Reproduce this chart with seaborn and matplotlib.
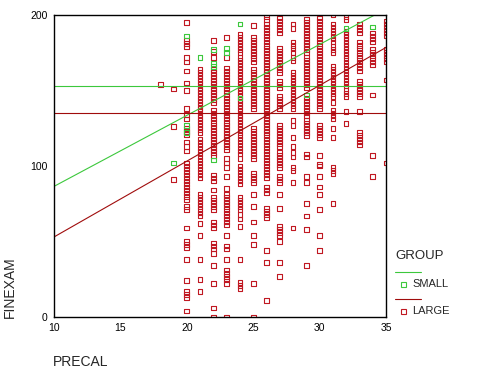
import matplotlib
matplotlib.use("Agg")
import matplotlib.pyplot as plt
import seaborn as sns
import pandas as pd
from matplotlib.lines import Line2D

# ---- data: FINEXAM scores per PRECAL value ----
large_18 = [154]
large_19 = [151, 126, 91]
large_20 = [195, 183, 181, 179, 172, 169, 163, 155, 150, 138, 134, 131, 125, 123, 121, 116, 113, 110,
            102, 100, 98, 96, 94, 92, 90, 88, 86, 84, 82, 80, 78, 73, 71, 59, 50, 48, 46, 38, 24, 17, 15, 13, 4]
large_21 = [164, 162, 160, 158, 156, 154, 152, 150, 148, 146, 144, 142, 140, 138, 136, 134, 132, 130,
            128, 126, 124, 122, 118, 116, 114, 112, 110, 108, 106, 104, 102, 100, 98, 96, 94, 92,
            81, 79, 77, 75, 73, 71, 69, 67, 62, 54, 38, 25, 17]
large_22 = [183, 176, 172, 164, 162, 160, 158, 156, 154, 152, 150, 148, 146, 144, 142, 137, 135, 133,
            131, 129, 127, 125, 123, 121, 119, 117, 115, 113, 111, 109, 107, 94, 92, 90, 84, 79, 77,
            75, 73, 71, 63, 61, 59, 49, 47, 45, 42, 34, 22, 6, 0]
large_23 = [185, 172, 165, 163, 161, 159, 157, 155, 153, 151, 149, 147, 145, 143, 141, 139, 137, 135,
            133, 131, 129, 127, 125, 123, 121, 119, 117, 115, 113, 111, 105, 102, 99, 93, 85, 81, 79,
            77, 75, 73, 71, 69, 67, 65, 63, 61, 54, 47, 45, 38, 31, 29, 27, 25, 22, 0]
large_24 = [187, 185, 183, 181, 179, 177, 175, 172, 170, 168, 166, 164, 162, 160, 158, 156, 154, 152,
            150, 148, 146, 144, 142, 140, 138, 136, 134, 132, 130, 128, 126, 124, 122, 120, 118, 116,
            114, 112, 110, 108, 105, 100, 98, 96, 94, 92, 90, 88, 79, 77, 75, 73, 71, 68, 65, 60,
            38, 23, 21, 19]
large_25 = [193, 185, 183, 181, 179, 177, 175, 173, 171, 169, 164, 162, 160, 158, 156, 154, 152, 150,
            148, 146, 144, 142, 140, 138, 125, 123, 121, 119, 117, 115, 113, 111, 109, 107, 105,
            95, 93, 91, 89, 81, 73, 63, 54, 48, 22, 0]
large_26 = [199, 197, 194, 192, 190, 188, 186, 184, 182, 180, 178, 176, 174, 172, 170, 168, 166, 164,
            162, 160, 158, 156, 154, 152, 150, 148, 146, 144, 142, 140, 138, 136, 134, 132, 130, 128,
            126, 124, 122, 120, 118, 116, 114, 112, 110, 108, 106, 104, 102, 100, 98, 96, 94, 92,
            86, 84, 82, 72, 70, 68, 66, 44, 36, 11]
large_27 = [198, 196, 194, 192, 190, 188, 178, 176, 174, 172, 170, 168, 166, 164, 162, 156, 154, 152,
            146, 144, 142, 140, 138, 127, 125, 123, 121, 119, 117, 115, 113, 109, 107, 105, 103, 101,
            99, 93, 91, 89, 81, 72, 60, 58, 56, 54, 50, 36, 27]
large_28 = [194, 191, 182, 180, 178, 175, 172, 170, 162, 160, 158, 156, 154, 152, 150, 148, 146, 144,
            142, 140, 138, 130, 127, 119, 113, 109, 106, 99, 97, 89, 59]
large_29 = [197, 195, 193, 191, 189, 187, 185, 183, 181, 179, 177, 175, 172, 170, 168, 166, 164, 162,
            160, 158, 156, 154, 152, 145, 143, 141, 139, 137, 135, 133, 130, 128, 126, 124, 122, 120,
            108, 106, 93, 89, 75, 67, 58, 34]
large_30 = [198, 196, 194, 192, 190, 188, 186, 184, 182, 180, 178, 176, 174, 172, 170, 168, 166, 164,
            162, 160, 158, 156, 154, 152, 150, 148, 146, 144, 142, 140, 138, 127, 125, 123, 121, 119,
            107, 101, 100, 93, 86, 81, 71, 54, 44]
large_31 = [200, 194, 192, 190, 188, 186, 184, 182, 179, 177, 175, 166, 164, 162, 160, 158, 156, 154,
            152, 150, 148, 146, 142, 137, 135, 133, 131, 125, 119, 99, 97, 95, 75]
large_32 = [199, 197, 189, 187, 185, 183, 181, 179, 177, 175, 173, 171, 169, 167, 165, 163, 161, 159,
            157, 155, 153, 150, 148, 146, 136, 128]
large_33 = [194, 192, 190, 188, 182, 180, 178, 175, 173, 171, 169, 167, 165, 163, 156, 154, 152, 150,
            148, 146, 136, 122, 120, 118, 116, 114]
large_34 = [188, 186, 184, 182, 177, 175, 173, 171, 169, 167, 147, 107, 93]
large_35 = [196, 194, 192, 190, 188, 186, 177, 175, 173, 171, 169, 157, 102]

small_19 = [102]
small_20 = [186, 127, 122]
small_21 = [172]
small_22 = [177, 168, 166, 104]
small_23 = [178, 175]
small_24 = [194, 145]
small_29 = [147]
small_32 = [191]
small_34 = [192]

# fit lines (values at PRECAL = 10 and 35) and group means
line_x = [10, 35]
small_fit = [86.5, 204.0]
large_fit = [53.0, 178.5]
small_mean = 153
large_mean = 135

groups = ["SMALL", "LARGE"]
colors = {"SMALL": "#3cc83c", "LARGE": "#c01822"}
line_colors = {"SMALL": "#3cc83c", "LARGE": "#a00c0c"}

large_cols = {18: large_18, 19: large_19, 20: large_20, 21: large_21, 22: large_22, 23: large_23,
              24: large_24, 25: large_25, 26: large_26, 27: large_27, 28: large_28, 29: large_29,
              30: large_30, 31: large_31, 32: large_32, 33: large_33, 34: large_34, 35: large_35}
small_cols = {19: small_19, 20: small_20, 21: small_21, 22: small_22, 23: small_23, 24: small_24,
              29: small_29, 32: small_32, 34: small_34}

rows = []
for x, ys in large_cols.items():
    rows += [(x, y, "LARGE") for y in ys]
for x, ys in small_cols.items():
    rows += [(x, y, "SMALL") for y in ys]
df = pd.DataFrame(rows, columns=["PRECAL", "FINEXAM", "GROUP"])

sns.set_style("white")
plt.rcParams["font.family"] = ["Liberation Sans", "DejaVu Sans"]

fig = plt.figure(figsize=(4.8, 3.84), dpi=100)
ax = fig.add_axes([54 / 480, 1 - 317 / 384, 332 / 480, 302 / 384])

# fit and mean lines
for g, fit, mean in [("SMALL", small_fit, small_mean), ("LARGE", large_fit, large_mean)]:
    sns.lineplot(x=line_x, y=fit, color=line_colors[g], lw=0.8, ax=ax)
    sns.lineplot(x=line_x, y=[mean, mean], color=line_colors[g], lw=0.8, ax=ax)

# points
for g in ["LARGE", "SMALL"]:
    sub = df[df["GROUP"] == g]
    sns.scatterplot(data=sub, x="PRECAL", y="FINEXAM", marker="s", s=11, color=colors[g],
                    linewidth=0.8, ax=ax, legend=False)
    coll = ax.collections[-1]
    coll.set_facecolor("none")
    coll.set_edgecolor(colors[g])

ax.set_xlim(10, 35)
ax.set_ylim(0, 200)
ax.set_xticks([10, 15, 20, 25, 30, 35])
ax.set_yticks([0, 100, 200])
ax.set_xlabel("")
ax.set_ylabel("")
for sp in ax.spines.values():
    sp.set_visible(True)
    sp.set_color("black")
    sp.set_linewidth(1.0)
ax.tick_params(direction="out", length=2.5, width=3, labelsize=7.5, pad=2, colors="black")

fig.text(53 / 480, 1 - 362 / 384, "PRECAL", ha="left", va="center", fontsize=10)
fig.text(10 / 480, 1 - 318 / 384, "FINEXAM", rotation=90, ha="center", va="bottom", fontsize=10)

# legend (outside, right)
fig.text(395 / 480, 1 - 256 / 384, "GROUP", ha="left", va="center", fontsize=9.5)
for g, ly, my in [("SMALL", 272, 284), ("LARGE", 299, 311)]:
    fig.add_artist(Line2D([395 / 480, 421 / 480], [1 - ly / 384] * 2, color=line_colors[g], lw=0.8,
                          transform=fig.transFigure))
    fig.add_artist(Line2D([403 / 480], [1 - my / 384], marker="s", ms=3.6, mfc="none",
                          mec=colors[g], mew=0.8, transform=fig.transFigure))
    fig.text(412 / 480, 1 - my / 384, g, ha="left", va="center", fontsize=8)

fig.savefig("out.png", dpi=100)
